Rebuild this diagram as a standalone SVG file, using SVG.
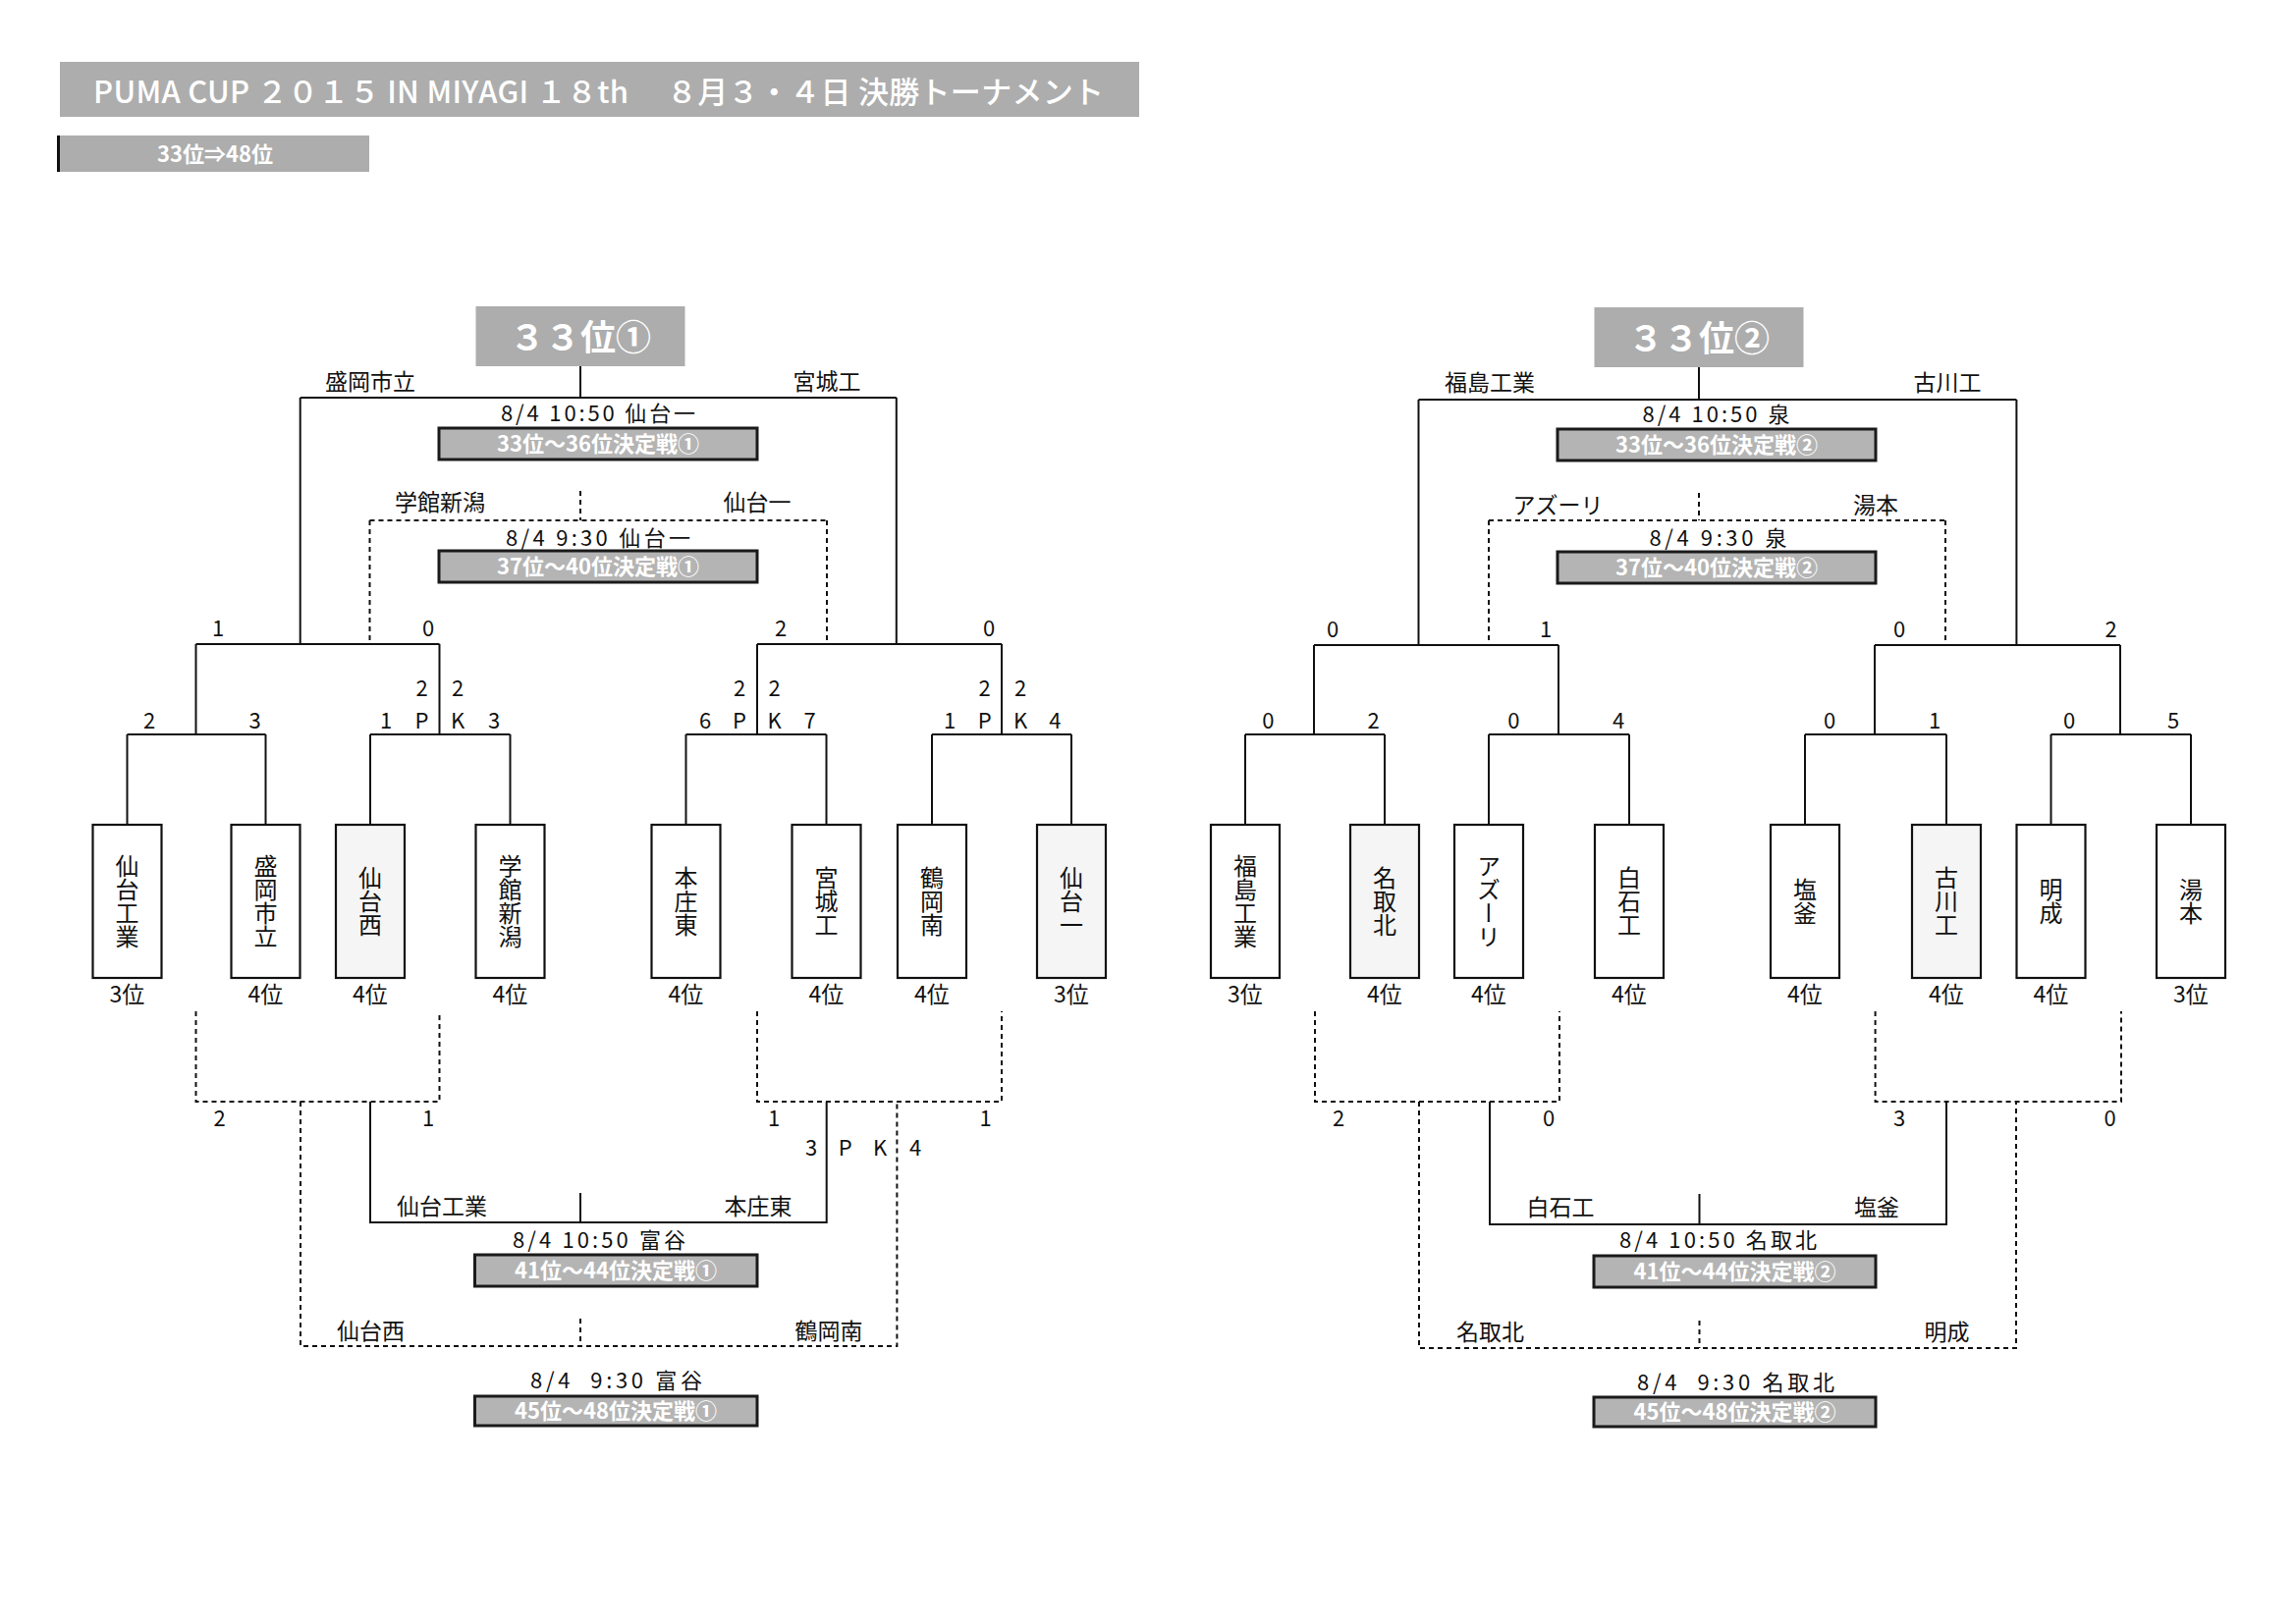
<svg xmlns="http://www.w3.org/2000/svg" width="2338" height="1653" viewBox="0 0 2338 1653">
<style>
.ln{stroke:#111;stroke-width:2;fill:none}
.ds{stroke:#111;stroke-width:2;fill:none;stroke-dasharray:5 4}
.tb{fill:#fff;stroke:#111;stroke-width:2.2}
.tbg{fill:#f5f5f5;stroke:#111;stroke-width:2.2}
.gb{fill:#b4b4b4;stroke:#1a1a1a;stroke-width:3}
.hb{fill:#adadad}
.t{font-family:"Noto Sans CJK JP","Noto Sans CJK SC",sans-serif;font-size:23px;fill:#111}
.s{font-family:"Noto Sans CJK JP","Noto Sans CJK SC",sans-serif;font-size:22px;fill:#111;text-anchor:middle}
.d{font-family:"Noto Sans CJK JP","Noto Sans CJK SC",sans-serif;font-size:22px;fill:#111;white-space:pre}
.m{text-anchor:middle}
.v{font-family:"Noto Sans CJK JP","Noto Sans CJK SC",sans-serif;font-size:24px;fill:#111;writing-mode:vertical-rl;text-anchor:middle}
.w{font-family:"Noto Sans CJK JP","Noto Sans CJK SC",sans-serif;font-size:22px;fill:#fff;font-weight:bold;text-anchor:middle}
.big{font-family:"Noto Sans CJK JP","Noto Sans CJK SC",sans-serif;font-size:36px;fill:#fff;font-weight:bold;text-anchor:middle}
</style>
<rect width="2338" height="1653" fill="#fff"/>

<g id="header">
<rect class="hb" x="61" y="63" width="1099" height="56"/>
<text x="95" y="105" font-family="'Noto Sans CJK JP',sans-serif" font-size="31" font-weight="500" fill="#fff" textLength="1029" lengthAdjust="spacing" style="white-space:pre">PUMA CUP ２０１５ IN MIYAGI １８th　 ８月３・４日 決勝トーナメント</text>
<rect class="hb" x="59" y="138" width="317" height="37"/>
<rect x="58" y="138" width="3" height="37" fill="#111"/>
<text class="w" x="219" y="165">33位⇒48位</text>
</g>

<g id="connectors">
<path class="ln" d="M591 373V405M305.7 405H912.8M305.7 405V656M912.8 405V656M199.5 656H447.5M771 656H1020M199.5 656V748M447.5 656V748M771 656V748M1020 656V748M129.5 748H270.5M377 748H519.5M698.5 748H841.5M949 748H1091M129.5 748V840M270.5 748V840M377 748V840M519.5 748V840M698.5 748V840M841.5 748V840M949 748V840M1091 748V840M377 1122V1245H841.7V1122M591 1215V1245"/>
<path class="ds" d="M591 500V530M376.5 530H842M376.5 530V656M842 530V656M199.5 1030V1122H447.5V1030M771 1030V1122H1020V1030M306 1122V1371H913.4V1122M591 1343V1371"/>
<path class="ln" d="M1730 374V407M1444.5 407H2053.4M1444.5 407V657M2053.4 407V657M1338 657H1587M1909 657H2159M1338 657V748M1587 657V748M1909 657V748M2159 657V748M1268 748H1410M1516 748H1659M1838 748H1982M2088.5 748H2231M1268 748V840M1410 748V840M1516 748V840M1659 748V840M1838 748V840M1982 748V840M2088.5 748V840M2231 748V840M1517 1122V1247H1982V1122M1730.5 1216V1247"/>
<path class="ds" d="M1730 502V530M1516 530H1981M1516 530V657M1981 530V657M1339 1030V1122H1588V1030M1909.6 1030V1122H2160V1030M1445 1122V1373H2053V1122M1730.5 1345V1373"/>
</g>

<g id="bracket1-title">
<rect class="hb" x="484.5" y="312" width="213" height="61"/>
<text class="big" x="591" y="357">３３位①</text>
</g>
<g id="bracket2-title">
<rect class="hb" x="1623.5" y="313" width="213" height="61"/>
<text class="big" x="1730" y="358">３３位②</text>
</g>

<g id="match-labels-1">
<text class="t m" x="377" y="397">盛岡市立</text>
<text class="t m" x="842" y="397">宮城工</text>
<text class="d" x="510" y="429" textLength="198" xml:space="preserve">8/4 10:50 仙台一</text>
<rect class="gb" x="447" y="436" width="324" height="32"/>
<text class="w" x="609" y="460">33位～36位決定戦①</text>
<text class="t m" x="448" y="520">学館新潟</text>
<text class="t m" x="771" y="520">仙台一</text>
<text class="d" x="515" y="556" textLength="188" xml:space="preserve">8/4 9:30 仙台一</text>
<rect class="gb" x="447" y="561" width="324" height="32"/>
<text class="w" x="609" y="585">37位～40位決定戦①</text>
<text class="t m" x="450" y="1237">仙台工業</text>
<text class="t m" x="772" y="1237">本庄東</text>
<text class="d" x="522" y="1271" textLength="176" xml:space="preserve">8/4 10:50 富谷</text>
<rect class="gb" x="483.5" y="1278" width="287.5" height="32"/>
<text class="w" x="627" y="1302">41位～44位決定戦①</text>
<text class="t m" x="377.5" y="1364">仙台西</text>
<text class="t m" x="844" y="1364">鶴岡南</text>
<text class="d" x="540" y="1414" textLength="175" xml:space="preserve">8/4  9:30 富谷</text>
<rect class="gb" x="483.5" y="1422" width="287.5" height="30"/>
<text class="w" x="627" y="1445">45位～48位決定戦①</text>
</g>

<g id="scores-1">
<text class="s" x="222" y="648">1</text>
<text class="s" x="436" y="648">0</text>
<text class="s" x="795" y="648">2</text>
<text class="s" x="1007" y="648">0</text>
<text class="s" x="429.5" y="709">2</text>
<text class="s" x="466" y="709">2</text>
<text class="s" x="753" y="709">2</text>
<text class="s" x="788.5" y="709">2</text>
<text class="s" x="1002.7" y="709">2</text>
<text class="s" x="1039" y="709">2</text>
<text class="s" x="152" y="742">2</text>
<text class="s" x="259.5" y="742">3</text>
<text class="s" x="393" y="742">1</text>
<text class="s" x="429.5" y="742">P</text>
<text class="s" x="466" y="742">K</text>
<text class="s" x="503" y="742">3</text>
<text class="s" x="718" y="742">6</text>
<text class="s" x="753" y="742">P</text>
<text class="s" x="788.5" y="742">K</text>
<text class="s" x="824.6" y="742">7</text>
<text class="s" x="967" y="742">1</text>
<text class="s" x="1002.7" y="742">P</text>
<text class="s" x="1039" y="742">K</text>
<text class="s" x="1074.3" y="742">4</text>
<text class="s" x="223.5" y="1147">2</text>
<text class="s" x="436" y="1147">1</text>
<text class="s" x="788" y="1147">1</text>
<text class="s" x="1003.5" y="1147">1</text>
<text class="s" x="826" y="1177">3</text>
<text class="s" x="860.6" y="1177">P</text>
<text class="s" x="896" y="1177">K</text>
<text class="s" x="932" y="1177">4</text>
</g>

<g id="team-sendai-kogyo"><rect class="tb" x="94.5" y="840" width="70" height="156"/><text class="v" x="129.5" y="918">仙台工業</text><text class="t m" x="129.5" y="1021">3位</text></g>
<g id="team-morioka-shiritsu"><rect class="tb" x="235.5" y="840" width="70" height="156"/><text class="v" x="270.5" y="918">盛岡市立</text><text class="t m" x="270.5" y="1021">4位</text></g>
<g id="team-sendai-nishi"><rect class="tbg" x="342" y="840" width="70" height="156"/><text class="v" x="377" y="918">仙台西</text><text class="t m" x="377" y="1021">4位</text></g>
<g id="team-gakkan-niigata"><rect class="tb" x="484.5" y="840" width="70" height="156"/><text class="v" x="519.5" y="918">学館新潟</text><text class="t m" x="519.5" y="1021">4位</text></g>
<g id="team-honjo-higashi"><rect class="tb" x="663.5" y="840" width="70" height="156"/><text class="v" x="698.5" y="918">本庄東</text><text class="t m" x="698.5" y="1021">4位</text></g>
<g id="team-miyagi-ko"><rect class="tb" x="806.5" y="840" width="70" height="156"/><text class="v" x="841.5" y="918">宮城工</text><text class="t m" x="841.5" y="1021">4位</text></g>
<g id="team-tsuruoka-minami"><rect class="tb" x="914" y="840" width="70" height="156"/><text class="v" x="949" y="918">鶴岡南</text><text class="t m" x="949" y="1021">4位</text></g>
<g id="team-sendai-ichi"><rect class="tbg" x="1056" y="840" width="70" height="156"/><text class="v" x="1091" y="918">仙台一</text><text class="t m" x="1091" y="1021">3位</text></g>

<g id="match-labels-2">
<text class="t m" x="1517" y="398">福島工業</text>
<text class="t m" x="1983" y="398">古川工</text>
<text class="d" x="1672.5" y="430" textLength="150" xml:space="preserve">8/4 10:50 泉</text>
<rect class="gb" x="1586" y="437" width="324" height="32"/>
<text class="w" x="1748" y="461">33位～36位決定戦②</text>
<text class="t m" x="1586.5" y="523">アズーリ</text>
<text class="t m" x="1910" y="523">湯本</text>
<text class="d" x="1679.5" y="556" textLength="140" xml:space="preserve">8/4 9:30 泉</text>
<rect class="gb" x="1586" y="562" width="324" height="32"/>
<text class="w" x="1748" y="586">37位～40位決定戦②</text>
<text class="t m" x="1589" y="1238">白石工</text>
<text class="t m" x="1911" y="1238">塩釜</text>
<text class="d" x="1649" y="1271" textLength="201" xml:space="preserve">8/4 10:50 名取北</text>
<rect class="gb" x="1623" y="1279" width="287" height="32"/>
<text class="w" x="1766.5" y="1303">41位～44位決定戦②</text>
<text class="t m" x="1517.5" y="1365">名取北</text>
<text class="t m" x="1982.5" y="1365">明成</text>
<text class="d" x="1667" y="1416" textLength="201" xml:space="preserve">8/4  9:30 名取北</text>
<rect class="gb" x="1623" y="1423" width="287" height="30"/>
<text class="w" x="1766.5" y="1446">45位～48位決定戦②</text>
</g>

<g id="scores-2">
<text class="s" x="1357" y="649">0</text>
<text class="s" x="1574" y="649">1</text>
<text class="s" x="1934" y="649">0</text>
<text class="s" x="2149.5" y="649">2</text>
<text class="s" x="1291.4" y="742">0</text>
<text class="s" x="1398.6" y="742">2</text>
<text class="s" x="1541.4" y="742">0</text>
<text class="s" x="1648" y="742">4</text>
<text class="s" x="1863" y="742">0</text>
<text class="s" x="1970" y="742">1</text>
<text class="s" x="2107" y="742">0</text>
<text class="s" x="2213" y="742">5</text>
<text class="s" x="1363" y="1147">2</text>
<text class="s" x="1577" y="1147">0</text>
<text class="s" x="1934" y="1147">3</text>
<text class="s" x="2148.6" y="1147">0</text>
</g>

<g id="team-fukushima-kogyo"><rect class="tb" x="1233" y="840" width="70" height="156"/><text class="v" x="1268" y="918">福島工業</text><text class="t m" x="1268" y="1021">3位</text></g>
<g id="team-natori-kita"><rect class="tbg" x="1375" y="840" width="70" height="156"/><text class="v" x="1410" y="918">名取北</text><text class="t m" x="1410" y="1021">4位</text></g>
<g id="team-azzurri"><rect class="tb" x="1481" y="840" width="70" height="156"/><text class="v" x="1516" y="918">アズーリ</text><text class="t m" x="1516" y="1021">4位</text></g>
<g id="team-shiroishi-ko"><rect class="tb" x="1624" y="840" width="70" height="156"/><text class="v" x="1659" y="918">白石工</text><text class="t m" x="1659" y="1021">4位</text></g>
<g id="team-shiogama"><rect class="tb" x="1803" y="840" width="70" height="156"/><text class="v" x="1838" y="918">塩釜</text><text class="t m" x="1838" y="1021">4位</text></g>
<g id="team-furukawa-ko"><rect class="tbg" x="1947" y="840" width="70" height="156"/><text class="v" x="1982" y="918">古川工</text><text class="t m" x="1982" y="1021">4位</text></g>
<g id="team-meisei"><rect class="tb" x="2053.5" y="840" width="70" height="156"/><text class="v" x="2088.5" y="918">明成</text><text class="t m" x="2088.5" y="1021">4位</text></g>
<g id="team-yumoto"><rect class="tb" x="2196" y="840" width="70" height="156"/><text class="v" x="2231" y="918">湯本</text><text class="t m" x="2231" y="1021">3位</text></g>
</svg>
